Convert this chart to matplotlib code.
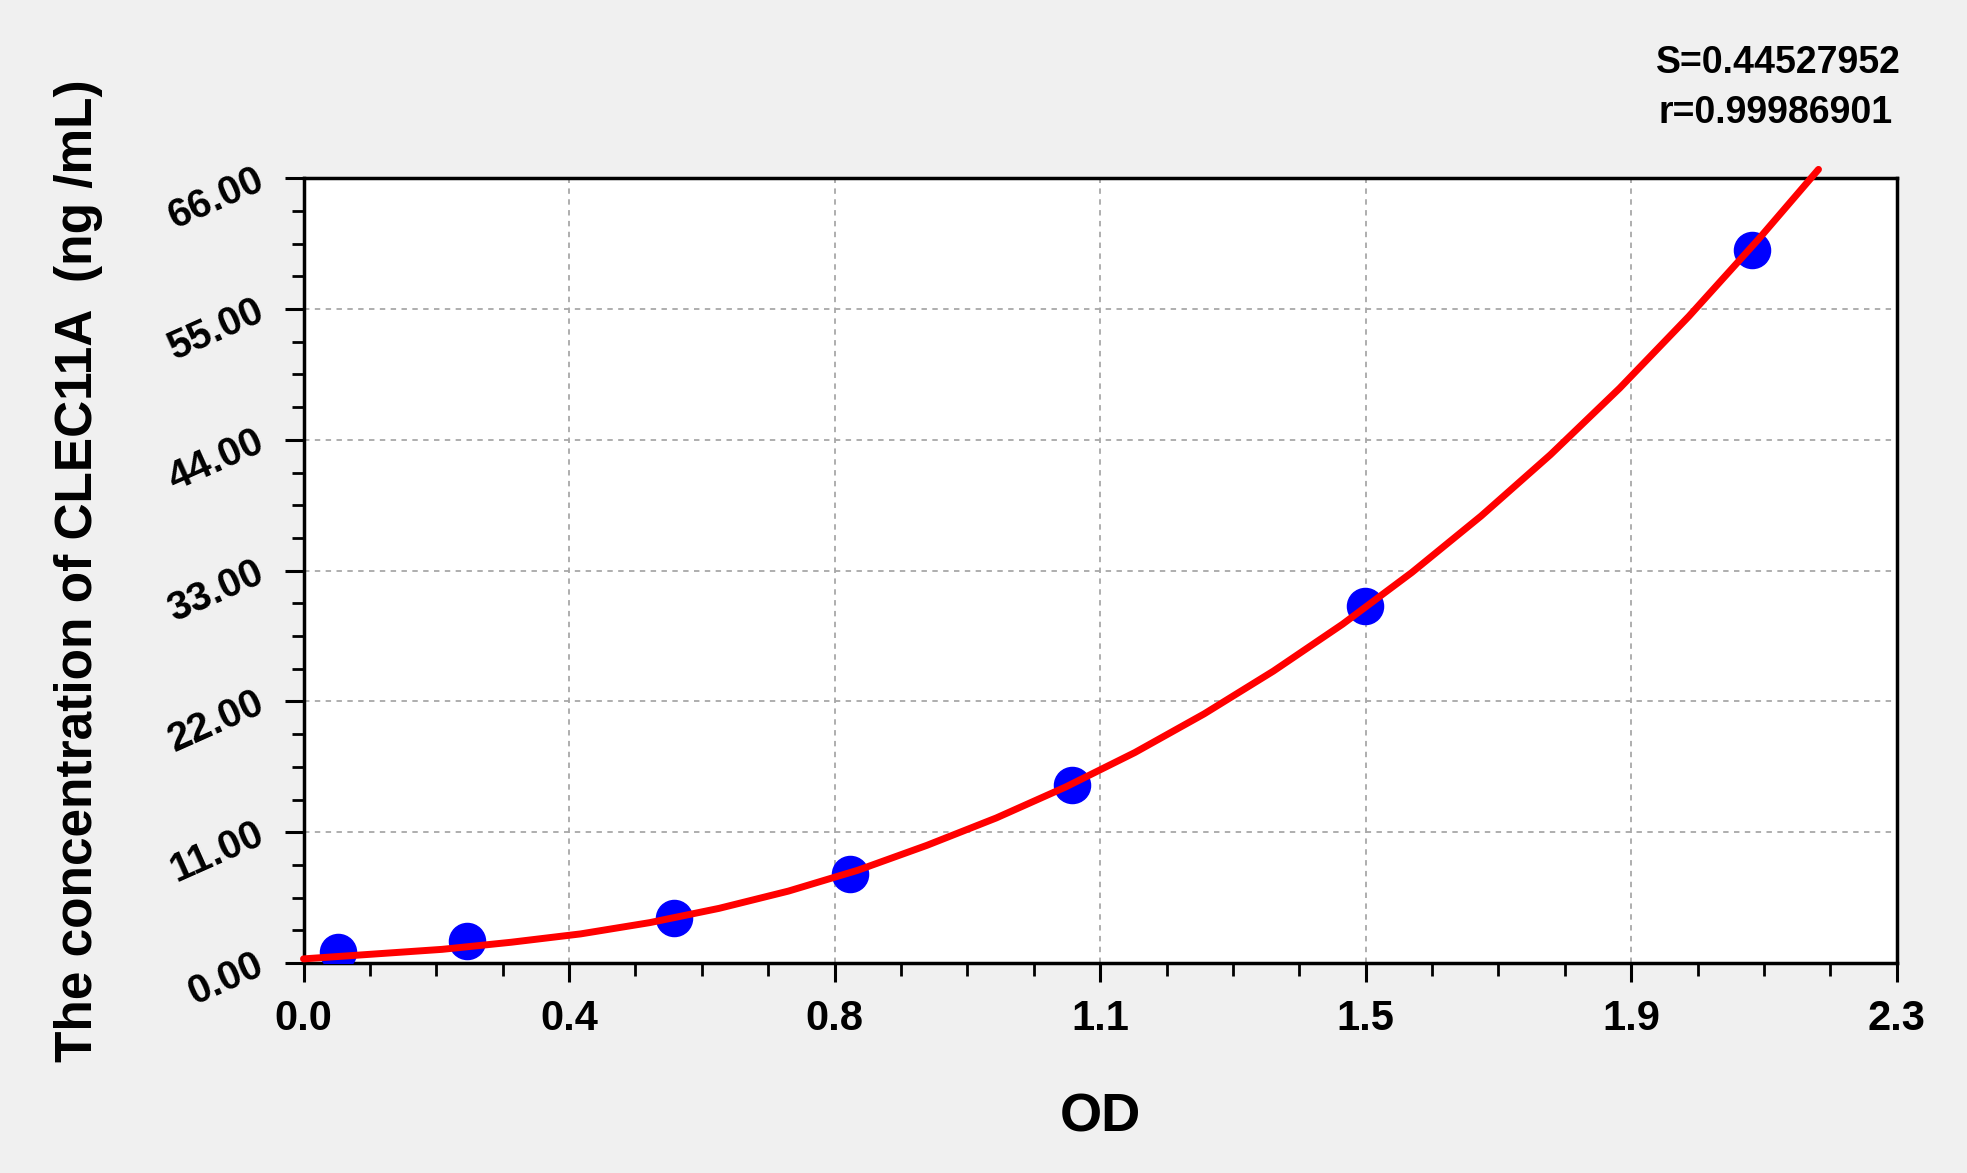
import matplotlib
matplotlib.use("Agg")
import matplotlib.pyplot as plt
from matplotlib import font_manager
from matplotlib.ticker import AutoMinorLocator
import numpy as np

# standard points
od = [0.050, 0.236, 0.535, 0.789, 1.109, 1.533, 2.091]
conc = [0.94, 1.88, 3.75, 7.5, 15.0, 30.0, 60.0]

# fitted curve
curve_od = [0.0, 0.1, 0.2, 0.3, 0.4, 0.5, 0.6, 0.7, 0.8, 0.9, 1.0, 1.1,
            1.2, 1.3, 1.4, 1.5, 1.6, 1.7, 1.8, 1.9, 2.0, 2.1, 2.187]
curve_conc = [0.35, 0.75, 1.15, 1.75, 2.45, 3.4, 4.6, 6.05, 7.8, 9.9, 12.2, 14.8,
              17.7, 20.95, 24.55, 28.5, 32.85, 37.6, 42.75, 48.35, 54.4, 60.85, 66.75]

xtick_labels = ["0.0", "0.4", "0.8", "1.1", "1.5", "1.9", "2.3"]
ytick_vals = [0, 11, 22, 33, 44, 55, 66]
ytick_labels = ["0.00", "11.00", "22.00", "33.00", "44.00", "55.00", "66.00"]
stats = ["S=0.44527952", "r=0.99986901"]

names = {f.name for f in font_manager.fontManager.ttflist}
base = "Liberation Sans" if "Liberation Sans" in names else "DejaVu Sans"

plt.rcParams["font.family"] = base
plt.rcParams["font.weight"] = "bold"

fig = plt.figure(figsize=(19.67, 11.73), dpi=100, facecolor="#f0f0f0")
ax = fig.add_axes([0.1543, 0.1790, 0.8100, 0.6690])
ax.set_facecolor("white")

ax.plot(od, conc, "o", color="#0000ff", markersize=26, zorder=3)
ax.plot(curve_od, curve_conc, color="#ff0000", lw=5, zorder=4, clip_on=False,
        solid_capstyle="round", solid_joinstyle="round")

ax.set_xlim(0, 2.3)
ax.set_ylim(0, 66)
ax.set_xticks(np.linspace(0, 2.3, len(xtick_labels)))
ax.set_xticklabels(xtick_labels, fontsize=30, fontweight="bold")
ax.set_yticks(ytick_vals)
ax.set_yticklabels(ytick_labels, fontsize=29, fontweight="bold",
                   rotation=24, rotation_mode="anchor", ha="right", va="center")
ax.xaxis.set_minor_locator(AutoMinorLocator(4))
ax.yaxis.set_minor_locator(AutoMinorLocator(4))

ax.tick_params(which="major", direction="out", length=14, width=2.2, color="black")
ax.tick_params(which="minor", direction="out", length=9, width=2.0, color="black")
ax.tick_params(axis="x", which="major", pad=12)
ax.tick_params(axis="y", which="major", pad=16)

for s in ax.spines.values():
    s.set_linewidth(2.5)
    s.set_color("black")

ax.grid(True, which="major", color="#a8a8a8", linestyle=(0, (3, 3)), linewidth=1.3)
ax.set_axisbelow(True)

ax.set_xlabel("OD", fontsize=39, fontweight="bold")
ax.xaxis.set_label_coords(0.5, -0.165)
ax.set_ylabel("The concentration of CLEC11A  (ng /mL)", fontsize=37,
              fontweight="bold", va="center")
ax.yaxis.set_label_coords(-0.141, 0.5)

fig.text(1901 / 1967, 1 - 63 / 1173, stats[0], ha="right", va="center",
         fontsize=27, fontweight="bold")
fig.text(1893 / 1967, 1 - 113 / 1173, stats[1], ha="right", va="center",
         fontsize=27, fontweight="bold")

fig.savefig("out.png", dpi=100, facecolor=fig.get_facecolor())
